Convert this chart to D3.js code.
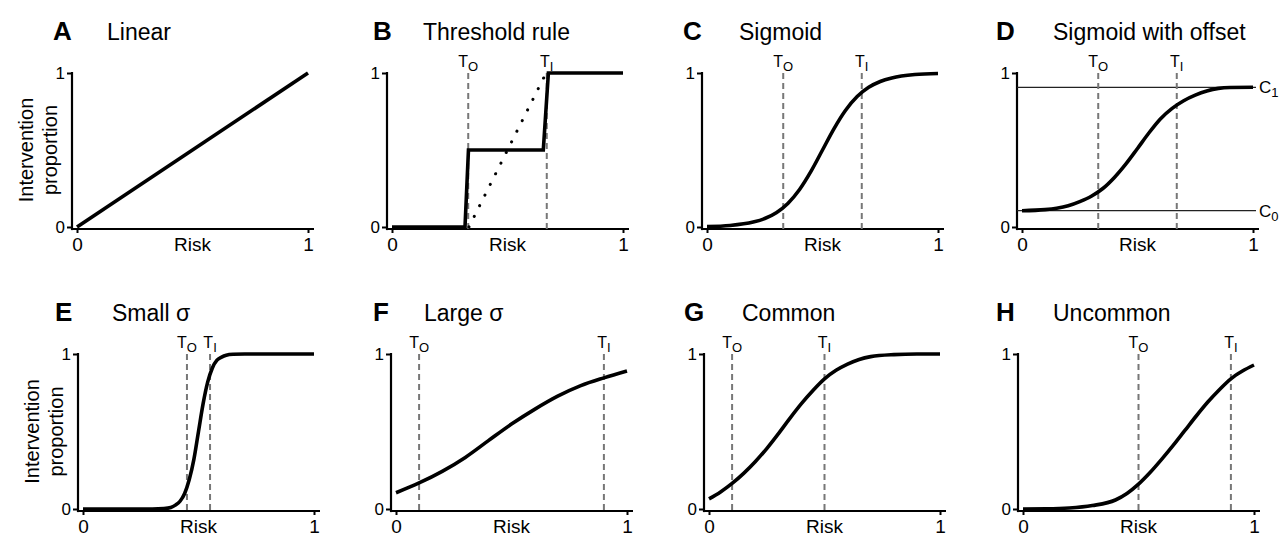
<!DOCTYPE html>
<html>
<head>
<meta charset="utf-8">
<script src="https://cdn.jsdelivr.net/npm/d3@7"></script>
<style>
  body { margin: 0; background: #fff; }
  svg { display: block; font-family: "Liberation Sans", Arial, sans-serif; }
</style>
</head>
<body>
<div id="chart"></div>
<script>
// panel text
const letters = ["A", "B", "C", "D", "E", "F", "G", "H"];
const titles = ["Linear", "Threshold rule", "Sigmoid", "Sigmoid with offset",
  "Small σ", "Large σ", "Common", "Uncommon"];
const tickLabels = [0, 1];

// thresholds T_O and T_I (null = none)
const tOut = [null, 0.33, 0.33, 0.33, 0.45, 0.1, 0.1, 0.5];
const tIn = [null, 0.67, 0.67, 0.67, 0.55, 0.9, 0.5, 0.9];
const offsetLevels = [0.106, 0.907]; // C0, C1 in panel D

// curves
const linearRisk = [0, 1];
const linearProp = [0, 1];

const stepRisk = [0, 0.316, 0.331, 0.655, 0.677, 1];
const stepProp = [0, 0, 0.5, 0.5, 1, 1];
const dottedRisk = [0.333, 0.667];
const dottedProp = [0, 1];

const sigmoidRisk = [0, 0.1, 0.2, 0.25, 0.3, 0.35, 0.4, 0.45, 0.5, 0.55, 0.6, 0.65, 0.7, 0.75, 0.8, 0.9, 1];
const sigmoidProp = [0.003, 0.01, 0.032, 0.055, 0.093, 0.153, 0.242, 0.361, 0.5, 0.639, 0.758, 0.847, 0.907, 0.945, 0.968, 0.99, 0.997];

const offsetRisk = [0, 0.1, 0.15, 0.2, 0.25, 0.3, 0.35, 0.4, 0.45, 0.5, 0.55, 0.6, 0.65, 0.7, 0.75, 0.8, 0.85, 0.9, 1];
const offsetProp = [0.106, 0.113, 0.122, 0.138, 0.165, 0.2, 0.25, 0.322, 0.41, 0.51, 0.612, 0.703, 0.77, 0.82, 0.856, 0.883, 0.9, 0.906, 0.907];

const smallRisk = [0, 0.3, 0.35, 0.38, 0.4, 0.42, 0.44, 0.46, 0.48, 0.5, 0.52, 0.54, 0.56, 0.58, 0.6, 0.62, 0.65, 0.7, 1];
const smallProp = [0, 0, 0.003, 0.01, 0.025, 0.05, 0.1, 0.19, 0.32, 0.5, 0.68, 0.82, 0.91, 0.96, 0.98, 0.992, 0.998, 1, 1];

const largeRisk = [0, 0.1, 0.2, 0.3, 0.4, 0.5, 0.6, 0.7, 0.8, 0.9, 1];
const largeProp = [0.105, 0.168, 0.243, 0.333, 0.441, 0.548, 0.643, 0.728, 0.796, 0.846, 0.89];

const commonRisk = [0, 0.05, 0.1, 0.15, 0.2, 0.25, 0.3, 0.35, 0.4, 0.45, 0.5, 0.55, 0.6, 0.65, 0.7, 0.8, 0.9, 1];
const commonProp = [0.065, 0.11, 0.165, 0.23, 0.305, 0.39, 0.485, 0.585, 0.68, 0.765, 0.84, 0.895, 0.935, 0.965, 0.983, 0.996, 1, 1];

const uncommonRisk = [0, 0.1, 0.2, 0.3, 0.4, 0.45, 0.5, 0.55, 0.6, 0.65, 0.7, 0.75, 0.8, 0.85, 0.9, 0.95, 1];
const uncommonProp = [0, 0.001, 0.006, 0.022, 0.058, 0.1, 0.16, 0.235, 0.32, 0.41, 0.505, 0.6, 0.69, 0.77, 0.84, 0.89, 0.929];

const zip = (a, b) => a.map((v, i) => [v, b[i]]);
const curves = [
  zip(linearRisk, linearProp),
  zip(stepRisk, stepProp),
  zip(sigmoidRisk, sigmoidProp),
  zip(offsetRisk, offsetProp),
  zip(smallRisk, smallProp),
  zip(largeRisk, largeProp),
  zip(commonRisk, commonProp),
  zip(uncommonRisk, uncommonProp)
];

const width = 1280, height = 536;
const plotW = 231;
const rows = [
  { top: 73, bottom: 227, left: [77, 392, 707, 1022], letterX: [53, 373, 683, 996], titleX: [107, 423, 739, 1053] },
  { top: 354, bottom: 509, left: [83, 396, 709, 1023], letterX: [55, 373, 684, 996], titleX: [112, 424, 742, 1053] }
];

const svg = d3.select("#chart").append("svg")
  .attr("width", width)
  .attr("height", height);

curves.forEach((pts, i) => {
  const row = rows[Math.floor(i / 4)], col = i % 4;
  const x0 = row.left[col];
  const x = d3.scaleLinear().domain([0, 1]).range([x0, x0 + plotW]);
  const y = d3.scaleLinear().domain([0, 1]).range([row.bottom, row.top]);
  const axisX = x0 - 5, axisY = row.bottom + 2;
  const g = svg.append("g");

  // x axis
  const xa = g.append("g")
    .attr("transform", `translate(0,${axisY})`)
    .call(d3.axisBottom(x).tickValues(tickLabels).tickSize(4).tickPadding(5).tickFormat(d3.format("d")));
  xa.select(".domain").remove();
  xa.selectAll(".tick line").attr("stroke-width", 2);
  xa.selectAll("text").attr("font-size", 19).attr("font-family", null).attr("fill", "#000");
  g.append("line")
    .attr("x1", axisX).attr("x2", x0 + plotW + 6)
    .attr("y1", axisY).attr("y2", axisY)
    .attr("stroke", "#000").attr("stroke-width", 2.2);

  // y axis
  const ya = g.append("g")
    .attr("transform", `translate(${axisX},0)`)
    .call(d3.axisLeft(y).tickValues(tickLabels).tickSize(5).tickPadding(2).tickFormat(d3.format("d")));
  ya.select(".domain").remove();
  ya.selectAll(".tick line").attr("stroke-width", 2);
  ya.selectAll("text").attr("font-size", 17).attr("font-family", null).attr("fill", "#000");
  g.append("line")
    .attr("x1", axisX).attr("x2", axisX)
    .attr("y1", y(1) - 1).attr("y2", axisY + 1.1)
    .attr("stroke", "#000").attr("stroke-width", 2.2);

  // labels
  g.append("text")
    .attr("x", x(0.5)).attr("y", row.bottom + 24)
    .attr("text-anchor", "middle").attr("font-size", 19)
    .text("Risk");
  g.append("text")
    .attr("x", row.letterX[col]).attr("y", row.top - 33.5)
    .attr("font-size", 26).attr("font-weight", "bold")
    .text(letters[i]);
  g.append("text")
    .attr("x", row.titleX[col]).attr("y", row.top - 33.5)
    .attr("font-size", 23)
    .text(titles[i]);

  if (col === 0) {
    const yl = g.append("text")
      .attr("transform", `translate(${axisX - 39},${(y(0) + y(1)) / 2}) rotate(-90)`)
      .attr("text-anchor", "middle").attr("font-size", 20);
    yl.append("tspan").attr("x", 0).attr("y", 0).text("Intervention");
    yl.append("tspan").attr("x", 0).attr("y", 24).text("proportion");
  }

  // offset levels (panel D)
  if (i === 3) {
    offsetLevels.forEach((lv, k) => {
      g.append("line")
        .attr("x1", axisX).attr("x2", x(1) + 3)
        .attr("y1", y(lv)).attr("y2", y(lv))
        .attr("stroke", "#222").attr("stroke-width", 1.3);
      const t = g.append("text")
        .attr("x", x(1) + 6).attr("y", y(lv) + 6)
        .attr("font-size", 17).text("C");
      t.append("tspan").attr("font-size", 13).attr("dy", 4).text(k === 0 ? "0" : "1");
    });
  }

  // thresholds
  [[tOut[i], "O"], [tIn[i], "I"]].forEach(([t, sub]) => {
    if (t === null) return;
    g.append("line")
      .attr("x1", x(t)).attr("x2", x(t))
      .attr("y1", y(1)).attr("y2", axisY)
      .attr("stroke", "#777").attr("stroke-width", 2)
      .attr("stroke-dasharray", "6,4");
    const lab = g.append("text")
      .attr("x", x(t)).attr("y", row.top - 6)
      .attr("text-anchor", "middle").attr("font-size", 16)
      .text("T");
    lab.append("tspan").attr("font-size", 13).attr("dy", 4).text(sub);
  });

  // dotted linear rule in panel B
  if (i === 1) {
    g.append("path")
      .datum(zip(dottedRisk, dottedProp))
      .attr("d", d3.line().x(d => x(d[0])).y(d => y(d[1])))
      .attr("fill", "none").attr("stroke", "#000")
      .attr("stroke-width", 3).attr("stroke-linecap", "round")
      .attr("stroke-dasharray", "0.1,11.8");
  }

  // main curve
  g.append("path")
    .datum(pts)
    .attr("d", d3.line()
      .x(d => x(d[0])).y(d => y(d[1]))
      .curve(i === 1 ? d3.curveLinear : d3.curveMonotoneX))
    .attr("fill", "none").attr("stroke", "#000")
    .attr("stroke-width", 3.6);
});
</script>
</body>
</html>
